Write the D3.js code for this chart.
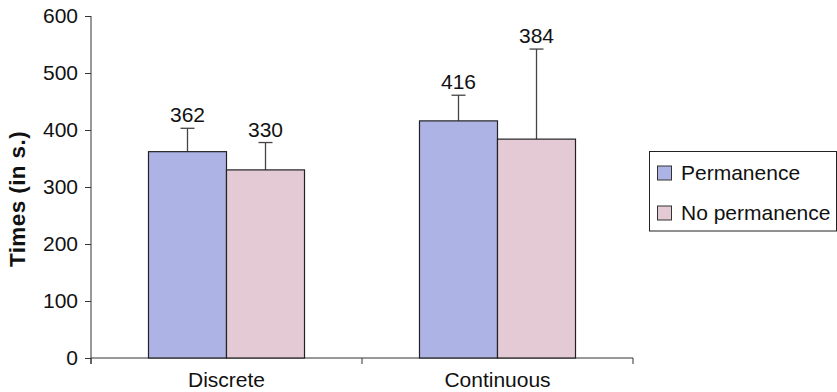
<!DOCTYPE html>
<html>
<head>
<meta charset="utf-8">
<script src="https://cdn.jsdelivr.net/npm/d3@7"></script>
<style>
  html, body { margin: 0; padding: 0; background: #fff; }
  svg { display: block; font-family: "Liberation Sans", Arial, Helvetica, sans-serif; }
</style>
</head>
<body>
<svg id="chart" width="837" height="392"></svg>
<script>
const categories = ["Discrete", "Continuous"];
const seriesNames = ["Permanence", "No permanence"];
const permanence = [362, 416];
const noPermanence = [330, 384];
const permanenceErr = [41, 45];
const noPermanenceErr = [48, 158];
const yTicks = [0, 100, 200, 300, 400, 500, 600];
const colors = ["#AEB3E5", "#E4CAD4"];

const values = [permanence, noPermanence];
const errs = [permanenceErr, noPermanenceErr];

const FS = 21;
const svg = d3.select("#chart");
const y = d3.scaleLinear().domain([0, 600]).range([358, 16]);
const x = d3.scaleBand().domain(categories).range([91, 633]).paddingInner(0).paddingOuter(0);
const xs = d3.scaleBand().domain(seriesNames).range([0, x.bandwidth()]).paddingInner(0).paddingOuter(0.737);

const axisColor = "#333";

// Y axis
const yAxis = d3.axisLeft(y).tickValues(yTicks).tickSize(6).tickPadding(7);
const gy = svg.append("g").attr("transform", "translate(91,0)").call(yAxis);
gy.select(".domain").attr("stroke", axisColor).attr("d", "M0,16V364");
gy.selectAll(".tick line").attr("stroke", axisColor);
gy.selectAll(".tick text").attr("font-size", FS).attr("fill", "#111").attr("font-family", "Liberation Sans, Arial, sans-serif");

// X axis
const xAxis = d3.axisBottom(x).tickSize(0).tickPadding(14);
const gx = svg.append("g").attr("transform", "translate(0,358)").call(xAxis);
gx.select(".domain").attr("stroke", axisColor).attr("d", "M91,0H633");
gx.selectAll(".tick text").attr("font-size", FS).attr("fill", "#111").attr("font-family", "Liberation Sans, Arial, sans-serif").attr("dy", "0.71em");
// boundary ticks
const bounds = [x.range()[0]].concat(categories.map(c => x(c) + x.bandwidth()));
svg.append("g").selectAll("line").data(bounds).join("line")
  .attr("x1", d => d).attr("x2", d => d).attr("y1", 358).attr("y2", 364)
  .attr("stroke", axisColor);

// Bars
seriesNames.forEach((s, si) => {
  const g = svg.append("g");
  categories.forEach((c, ci) => {
    const v = values[si][ci];
    const e = errs[si][ci];
    const bx = x(c) + xs(s);
    const cx = bx + xs.bandwidth() / 2;
    g.append("line").attr("x1", cx).attr("x2", cx).attr("y1", y(v)).attr("y2", y(v + e))
      .attr("stroke", "#444").attr("stroke-width", 1.3);
    g.append("line").attr("x1", cx - 7).attr("x2", cx + 7).attr("y1", y(v + e)).attr("y2", y(v + e))
      .attr("stroke", "#444").attr("stroke-width", 1.3);
    g.append("rect").attr("x", bx).attr("y", y(v)).attr("width", xs.bandwidth()).attr("height", y(0) - y(v))
      .attr("fill", colors[si]).attr("stroke", "#222").attr("stroke-width", 1.2);
    g.append("text").attr("x", cx).attr("y", y(v + e) - 6).attr("text-anchor", "middle")
      .attr("font-size", FS).attr("fill", "#111").text(v);
  });
});

// Y label
svg.append("text").attr("transform", "translate(25,199) rotate(-90)").attr("text-anchor", "middle")
  .attr("font-size", 22.5).attr("letter-spacing", 0.4).attr("font-weight", "bold").attr("fill", "#111").text("Times (in s.)");

// Legend
const lg = svg.append("g");
lg.append("rect").attr("x", 649.5).attr("y", 151.5).attr("width", 187).attr("height", 79.5)
  .attr("fill", "#fff").attr("stroke", "#222").attr("stroke-width", 1);
seriesNames.forEach((s, i) => {
  const yy = 166 + i * 40;
  lg.append("rect").attr("x", 657.5).attr("y", yy).attr("width", 14).attr("height", 14)
    .attr("fill", colors[i]).attr("stroke", "#333").attr("stroke-width", 1);
  lg.append("text").attr("x", 681).attr("y", yy + 14).attr("font-size", FS).attr("fill", "#111").text(s);
});
</script>
</body>
</html>
